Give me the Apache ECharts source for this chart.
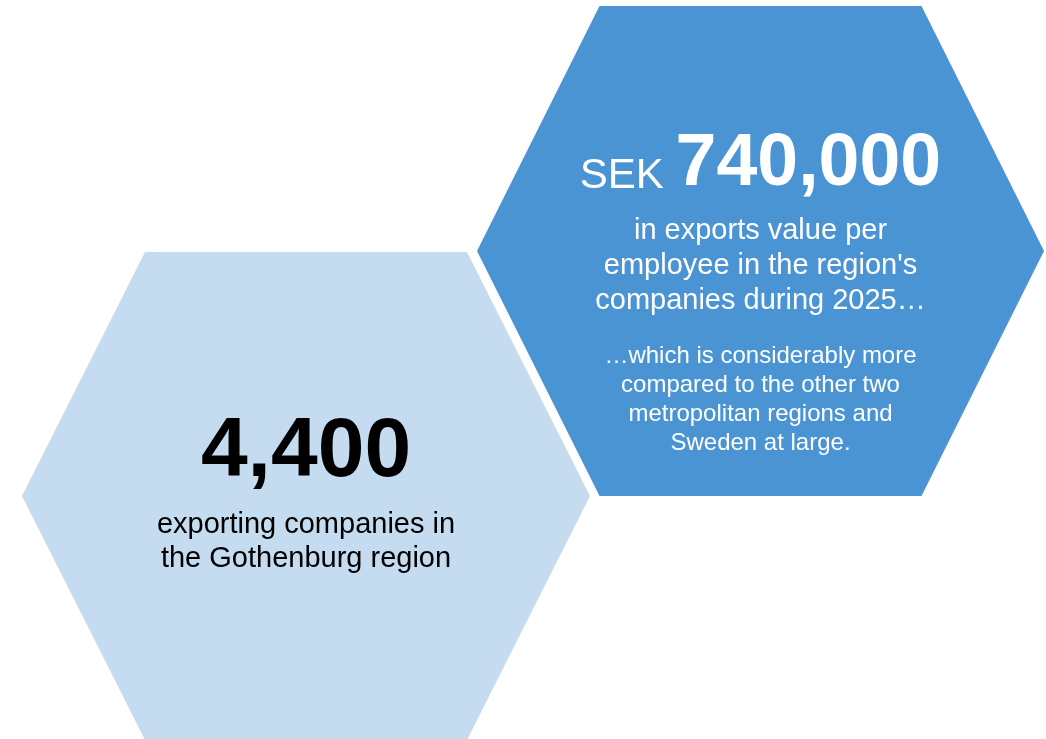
<!DOCTYPE html>
<html>
<head>
<meta charset="utf-8">
<script src="https://cdn.jsdelivr.net/npm/echarts@6/dist/echarts.min.js"></script>
<style>
  html, body { margin: 0; padding: 0; background: #fff; }
  #chart { width: 1046px; height: 739px; }
</style>
</head>
<body>
<div id="chart"></div>
<script>
var panels = ['Exporting companies', 'Exports value per employee'];
var headlineValues = [4400, 740000];
var valuePrefixes = ['', 'SEK'];
var captions = [
    ['exporting companies in', 'the Gothenburg region'],
    ['in exports value per', "employee in the region's", 'companies during 2025\u2026']
];
var notes = [
    [],
    ['\u2026which is considerably more', 'compared to the other two', 'metropolitan regions and', 'Sweden at large.']
];

// layout of each hexagon, in axis units (axis = page pixels)
var layout = [
    { cx: 306, cy: 496, halfW: 284, halfTop: 161, halfH: 244, fill: '#c5dcf0', ink: '#000',
      valueY: 453, valueSize: 84, captionY: 542, captionLH: 34, noteY: 0 },
    { cx: 760.5, cy: 251, halfW: 283.5, halfTop: 161, halfH: 245, fill: '#4a94d4', ink: '#fff',
      valueY: 165, valueSize: 73.5, captionY: 266, captionLH: 35, noteY: 400 }
];

var FONT = '"Liberation Sans", Arial, Helvetica, sans-serif';

function renderHex(params, api) {
    var i = api.value(0);
    var L = layout[i];
    var pts = [
        [L.cx - L.halfW, L.cy],
        [L.cx - L.halfTop, L.cy - L.halfH],
        [L.cx + L.halfTop, L.cy - L.halfH],
        [L.cx + L.halfW, L.cy],
        [L.cx + L.halfTop, L.cy + L.halfH],
        [L.cx - L.halfTop, L.cy + L.halfH]
    ].map(function (p) { return api.coord(p); });

    var center = api.coord([L.cx, L.cy]);
    var children = [{
        type: 'polygon',
        shape: { points: pts },
        style: { fill: L.fill, stroke: null }
    }];

    var valueText = headlineValues[i].toLocaleString('en-US');
    var headline = valuePrefixes[i]
        ? '{p|' + valuePrefixes[i] + ' }{v|' + valueText + '}'
        : '{v|' + valueText + '}';
    children.push({
        type: 'text',
        style: {
            x: center[0],
            y: api.coord([0, L.valueY])[1],
            text: headline,
            align: 'center',
            verticalAlign: 'middle',
            fill: L.ink,
            fontFamily: FONT,
            rich: {
                p: { fontSize: 42, fontFamily: FONT, fill: L.ink, padding: [22, 0, 0, 0] },
                v: { fontSize: L.valueSize, fontWeight: 'bold', fontFamily: FONT, fill: L.ink }
            }
        }
    });

    children.push({
        type: 'text',
        style: {
            x: center[0],
            y: api.coord([0, L.captionY])[1],
            text: captions[i].join('\n'),
            align: 'center',
            verticalAlign: 'middle',
            fill: L.ink,
            fontSize: 29,
            lineHeight: L.captionLH,
            fontFamily: FONT
        }
    });

    if (notes[i].length) {
        children.push({
            type: 'text',
            style: {
                x: center[0],
                y: api.coord([0, L.noteY])[1],
                text: notes[i].join('\n'),
                align: 'center',
                verticalAlign: 'middle',
                fill: L.ink,
                fontSize: 24,
                lineHeight: 29,
                fontFamily: FONT
            }
        });
    }

    return { type: 'group', children: children };
}

var chart = echarts.init(document.getElementById('chart'));
chart.setOption({
    animation: false,
    backgroundColor: '#fff',
    grid: { left: 0, right: 0, top: 0, bottom: 0 },
    xAxis: { type: 'value', min: 0, max: 1046, show: false },
    yAxis: { type: 'value', min: 0, max: 739, inverse: true, show: false },
    series: [{
        type: 'custom',
        name: 'panels',
        clip: false,
        renderItem: renderHex,
        data: panels.map(function (name, i) { return { name: name, value: [i] }; })
    }]
});
</script>
</body>
</html>
